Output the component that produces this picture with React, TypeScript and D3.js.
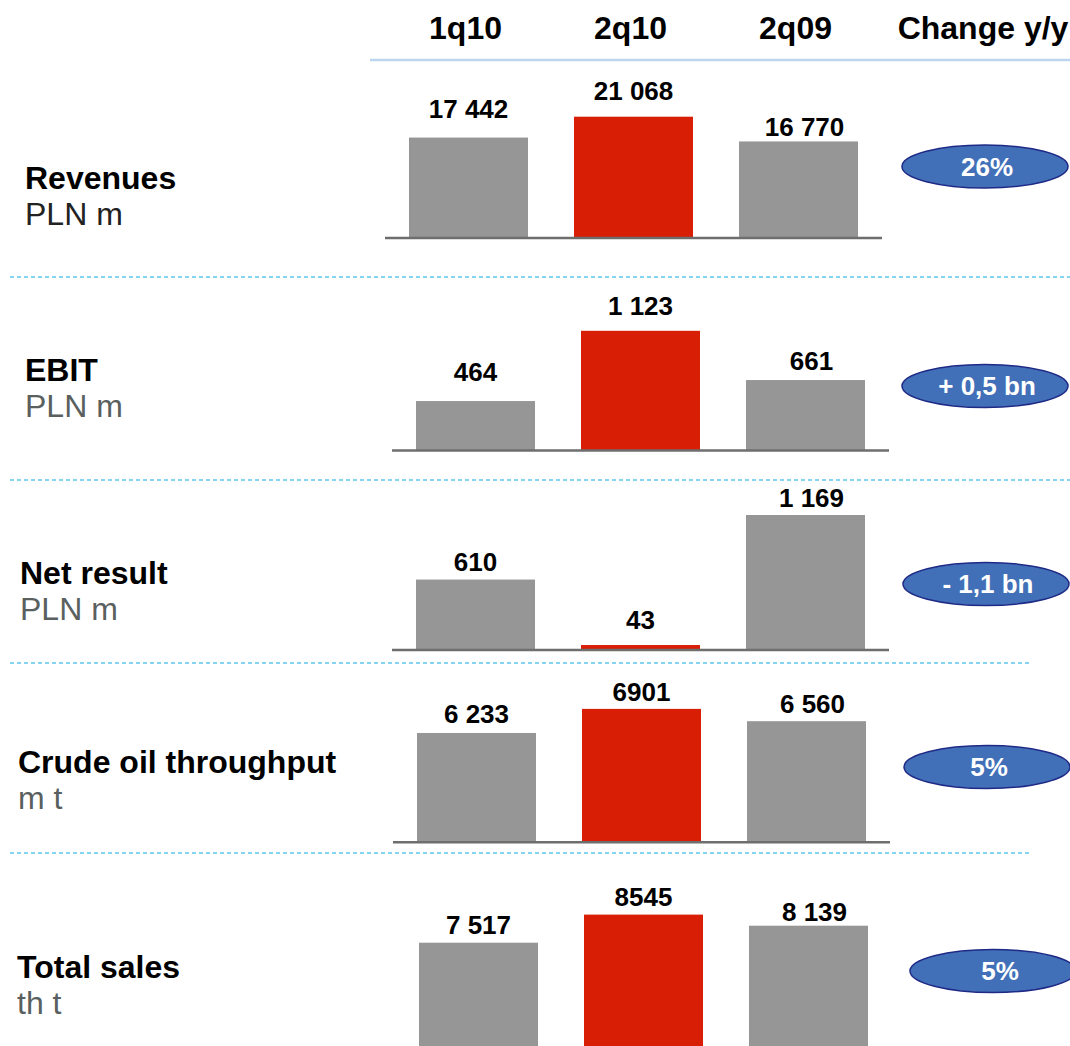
import React from "react";
import * as d3 from "d3";

// ---------- data ----------
const periods = ["1q10", "2q10", "2q09"];
const headerChange = "Change y/y";
const metrics = ["Revenues", "EBIT", "Net result", "Crude oil throughput", "Total sales"];
const units = ["PLN m", "PLN m", "PLN m", "m t", "th t"];

const revenues = [17442, 21068, 16770];
const ebit = [464, 1123, 661];
const netResult = [610, 43, 1169];
const crudeThroughput = [6233, 6901, 6560];
const totalSales = [7517, 8545, 8139];

const revenuesLabels = ["17 442", "21 068", "16 770"];
const ebitLabels = ["464", "1 123", "661"];
const netResultLabels = ["610", "43", "1 169"];
const crudeLabels = ["6 233", "6901", "6 560"];
const salesLabels = ["7 517", "8545", "8 139"];

const changeLabels = ["26%", "+ 0,5 bn", "- 1,1 bn", "5%", "5%"];
const highlightPeriod = "2q10";

// ---------- layout / style ----------
const W = 1070;
const H = 1046;
const FONT = "'Liberation Sans', Arial, Helvetica, sans-serif";
const GRAY = "#969696";
const RED = "#d81e05";
const BADGE_FILL = "#4170b8";
const BADGE_STROKE = "#1f2a86";
const SEP_COLOR = "#5cc6ee";

const rowValues = [revenues, ebit, netResult, crudeThroughput, totalSales];
const rowLabels = [revenuesLabels, ebitLabels, netResultLabels, crudeLabels, salesLabels];
const rowBaseline = [238, 450.5, 650, 842.3, 1060];
const rowBarHeight = [121.3, 119.7, 135, 133.4, 145.4];
const rowDomainLow = [0, 0, 0, 3200, 3226];
const rowShift = [0, 7, 7, 8, 10];
const rowLabelX = [25, 25, 20, 18, 17];
const rowTitleY = [188.5, 381, 584, 773, 978];
const rowUnitColor = ["#222222", "#5a5f60", "#5a5f60", "#5a5f60", "#5a5f60"];
const labelGap = [
  [19.7, 16.3, 5],
  [20.3, 16, 10],
  [9, 16, 8.3],
  [10, 8, 7.7],
  [9, 9, 5],
];
const labelDx = [0, 0, 6];
const badgeCx = [985, 985, 986, 987, 993];
const badgeCy = [166.5, 386, 584, 767, 971];
const separators = [
  { y: 277, x2: 1070 },
  { y: 480, x2: 1070 },
  { y: 663, x2: 1030 },
  { y: 853, x2: 1030 },
];

export default function App() {
  const baseX = (shift: number) =>
    d3
      .scaleBand<string>()
      .domain(periods)
      .range([386 + shift, 881 + shift])
      .paddingInner(0.2788)
      .paddingOuter(0.1394);

  const headX = baseX(0);

  return (
    <div style={{ position: "absolute", left: 0, top: 0 }}>
      <svg width={W} height={H} viewBox={`0 0 ${W} ${H}`} style={{ display: "block", background: "#fff" }} fontFamily={FONT}>
        {/* header */}
        {periods.map((p) => (
          <text key={p} x={(headX(p) as number) + headX.bandwidth() / 2 - 3} y={38.5} textAnchor="middle" fontSize={32} fontWeight="bold" fill="#000">
            {p}
          </text>
        ))}
        <text x={983} y={38.5} textAnchor="middle" fontSize={32} fontWeight="bold" fill="#000">
          {headerChange}
        </text>
        <line x1={370} x2={1070} y1={60} y2={60} stroke="#bcd6f0" strokeWidth={2.5} />

        {/* separators */}
        {separators.map((s, i) => (
          <line key={i} x1={10} x2={s.x2} y1={s.y} y2={s.y} stroke={SEP_COLOR} strokeWidth={1.6} strokeDasharray="4 3" />
        ))}

        {metrics.map((m, r) => {
          const x = baseX(rowShift[r]);
          const y = d3
            .scaleLinear()
            .domain([rowDomainLow[r], d3.max(rowValues[r]) as number])
            .range([rowBaseline[r], rowBaseline[r] - rowBarHeight[r]]);
          const [r0, r1] = x.range();
          return (
            <g key={m}>
              <text x={rowLabelX[r]} y={rowTitleY[r]} fontSize={32} fontWeight="bold" fill="#000">
                {m}
              </text>
              <text x={rowLabelX[r]} y={rowTitleY[r] + 36} fontSize={32} fill={rowUnitColor[r]}>
                {units[r]}
              </text>
              {periods.map((p, i) => {
                const v = rowValues[r][i];
                const top = y(v);
                return (
                  <g key={p}>
                    <rect
                      x={x(p)}
                      y={top}
                      width={x.bandwidth()}
                      height={rowBaseline[r] - top}
                      fill={p === highlightPeriod ? RED : GRAY}
                    />
                    <text
                      x={(x(p) as number) + x.bandwidth() / 2 + labelDx[i]}
                      y={top - labelGap[r][i]}
                      textAnchor="middle"
                      fontSize={26}
                      fontWeight="bold"
                      fill="#000"
                    >
                      {rowLabels[r][i]}
                    </text>
                  </g>
                );
              })}
              <line x1={r0 - 1} x2={r1 + 1} y1={rowBaseline[r]} y2={rowBaseline[r]} stroke="#6e6e6e" strokeWidth={2.5} />
              <ellipse cx={badgeCx[r]} cy={badgeCy[r]} rx={83} ry={21.5} fill={BADGE_FILL} stroke={BADGE_STROKE} strokeWidth={1.5} />
              <text x={badgeCx[r] + (r === 4 ? 7 : 2)} y={badgeCy[r] + 9.3} textAnchor="middle" fontSize={26} fontWeight="bold" fill="#fff">
                {changeLabels[r]}
              </text>
            </g>
          );
        })}
      </svg>
    </div>
  );
}
